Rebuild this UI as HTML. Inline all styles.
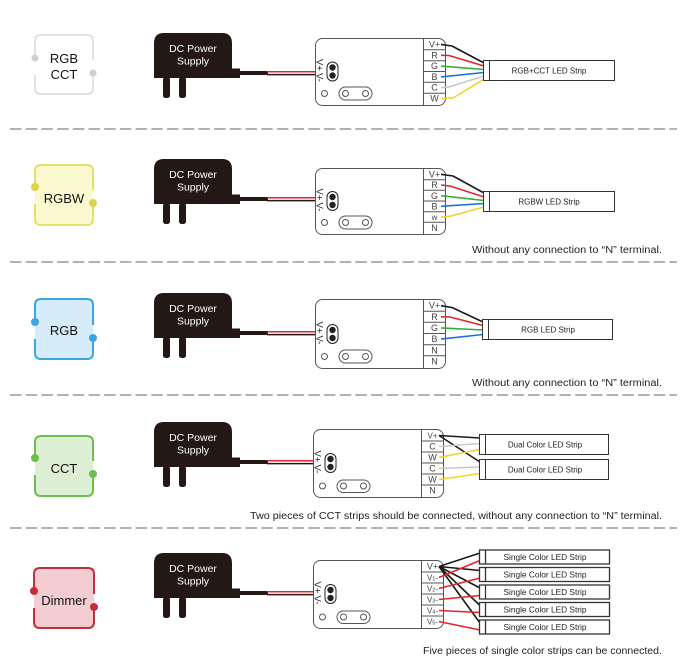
<!DOCTYPE html>
<html><head><meta charset="utf-8"><style>
html,body{margin:0;padding:0;background:#fff;}
svg{display:block;font-family:"Liberation Sans",sans-serif;}
</style></head><body>
<svg width="684" height="666" viewBox="0 0 684 666" xmlns="http://www.w3.org/2000/svg">

<!-- dashed separators -->
<g stroke="#a8a8a8" stroke-width="1.8" stroke-dasharray="11.5 4.2">
<line x1="10" y1="129" x2="677" y2="129"/>
<line x1="10" y1="262" x2="677" y2="262"/>
<line x1="10" y1="395" x2="677" y2="395"/>
<line x1="10" y1="528" x2="677" y2="528"/>
</g>

<!-- ============ MODULE BOXES ============ -->
<!-- Row1 RGB CCT -->
<rect x="35" y="35" width="58" height="59" rx="6" fill="#fff"/>
<path d="M35,75 L35,88 Q35,94 41,94 L87,94 Q93,94 93,88 L93,70 M93,60 L93,41 Q93,35 87,35 L41,35 Q35,35 35,41 L35,58" fill="none" stroke="#d9d9d9" stroke-width="1.5"/>
<circle cx="35" cy="58" r="3.5" fill="#cfcfcf"/>
<circle cx="93" cy="73" r="3.5" fill="#cfcfcf"/>
<text x="64" y="63" font-size="13" text-anchor="middle" fill="#111">RGB</text>
<text x="64" y="79" font-size="13" text-anchor="middle" fill="#111">CCT</text>

<!-- Row2 RGBW -->
<rect x="35" y="165" width="58" height="60" rx="6" fill="#fbf9cf"/>
<path d="M35,204 L35,219 Q35,225 41,225 L87,225 Q93,225 93,219 L93,200 M93,190 L93,171 Q93,165 87,165 L41,165 Q35,165 35,171 L35,187" fill="none" stroke="#e6df6a" stroke-width="2"/>
<circle cx="35" cy="187" r="4" fill="#dcd34a"/>
<circle cx="93" cy="203" r="4" fill="#dcd34a"/>
<text x="64" y="203" font-size="13" text-anchor="middle" fill="#111">RGBW</text>

<!-- Row3 RGB -->
<rect x="35" y="299" width="58" height="60" rx="6" fill="#d6ecfa"/>
<path d="M35,339 L35,353 Q35,359 41,359 L87,359 Q93,359 93,353 L93,335 M93,325 L93,305 Q93,299 87,299 L41,299 Q35,299 35,305 L35,322" fill="none" stroke="#3ba6e3" stroke-width="2"/>
<circle cx="35" cy="322" r="4" fill="#3ba6e3"/>
<circle cx="93" cy="338" r="4" fill="#3ba6e3"/>
<text x="64" y="335" font-size="13" text-anchor="middle" fill="#111">RGB</text>

<!-- Row4 CCT -->
<rect x="35" y="436" width="58" height="60" rx="6" fill="#dcefd4"/>
<path d="M35,475 L35,490 Q35,496 41,496 L87,496 Q93,496 93,490 L93,471 M93,461 L93,442 Q93,436 87,436 L41,436 Q35,436 35,442 L35,458" fill="none" stroke="#6bbf4e" stroke-width="2"/>
<circle cx="35" cy="458" r="4" fill="#6bbf4e"/>
<circle cx="93" cy="474" r="4" fill="#6bbf4e"/>
<text x="64" y="473" font-size="13" text-anchor="middle" fill="#111">CCT</text>

<!-- Row5 Dimmer -->
<rect x="34" y="568" width="60" height="60" rx="6" fill="#f3cdd1"/>
<path d="M34,608 L34,622 Q34,628 40,628 L88,628 Q94,628 94,622 L94,604 M94,594 L94,574 Q94,568 88,568 L40,568 Q34,568 34,574 L34,591" fill="none" stroke="#c42e3c" stroke-width="2"/>
<circle cx="34" cy="591" r="4" fill="#c42e3c"/>
<circle cx="94" cy="607" r="4" fill="#c42e3c"/>
<text x="64" y="605" font-size="13" text-anchor="middle" fill="#111">Dimmer</text>

<!-- ============ POWER SUPPLIES + CABLES ============ -->
<g transform="translate(0,0)">
 <path d="M154,78 L154,43 Q154,33 164,33 L222,33 Q232,33 232,43 L232,78 Z" fill="#231815"/>
 <rect x="231" y="68.5" width="9" height="9.5" fill="#231815"/>
 <rect x="163" y="77" width="7" height="21" rx="2.5" fill="#231815"/>
 <rect x="179" y="77" width="7" height="21" rx="2.5" fill="#231815"/>
 <text x="193" y="52" font-size="10.5" fill="#fff" text-anchor="middle">DC Power</text>
 <text x="193" y="64.5" font-size="10.5" fill="#fff" text-anchor="middle">Supply</text>
 <line x1="239" y1="73" x2="268" y2="73" stroke="#231815" stroke-width="4"/>
 <line x1="267" y1="71.8" x2="318" y2="71.8" stroke="#e0262a" stroke-width="1.5"/>
 <line x1="267" y1="74.6" x2="318" y2="74.6" stroke="#231815" stroke-width="1.5"/>
</g>
<g transform="translate(0,126)">
 <path d="M154,78 L154,43 Q154,33 164,33 L222,33 Q232,33 232,43 L232,78 Z" fill="#231815"/>
 <rect x="231" y="68.5" width="9" height="9.5" fill="#231815"/>
 <rect x="163" y="77" width="7" height="21" rx="2.5" fill="#231815"/>
 <rect x="179" y="77" width="7" height="21" rx="2.5" fill="#231815"/>
 <text x="193" y="52" font-size="10.5" fill="#fff" text-anchor="middle">DC Power</text>
 <text x="193" y="64.5" font-size="10.5" fill="#fff" text-anchor="middle">Supply</text>
 <line x1="239" y1="73" x2="268" y2="73" stroke="#231815" stroke-width="4"/>
 <line x1="267" y1="71.8" x2="318" y2="71.8" stroke="#e0262a" stroke-width="1.5"/>
 <line x1="267" y1="74.6" x2="318" y2="74.6" stroke="#231815" stroke-width="1.5"/>
</g>
<g transform="translate(0,260)">
 <path d="M154,78 L154,43 Q154,33 164,33 L222,33 Q232,33 232,43 L232,78 Z" fill="#231815"/>
 <rect x="231" y="68.5" width="9" height="9.5" fill="#231815"/>
 <rect x="163" y="77" width="7" height="21" rx="2.5" fill="#231815"/>
 <rect x="179" y="77" width="7" height="21" rx="2.5" fill="#231815"/>
 <text x="193" y="52" font-size="10.5" fill="#fff" text-anchor="middle">DC Power</text>
 <text x="193" y="64.5" font-size="10.5" fill="#fff" text-anchor="middle">Supply</text>
 <line x1="239" y1="73" x2="268" y2="73" stroke="#231815" stroke-width="4"/>
 <line x1="267" y1="71.8" x2="318" y2="71.8" stroke="#e0262a" stroke-width="1.5"/>
 <line x1="267" y1="74.6" x2="318" y2="74.6" stroke="#231815" stroke-width="1.5"/>
</g>
<g transform="translate(0,389)">
 <path d="M154,78 L154,43 Q154,33 164,33 L222,33 Q232,33 232,43 L232,78 Z" fill="#231815"/>
 <rect x="231" y="68.5" width="9" height="9.5" fill="#231815"/>
 <rect x="163" y="77" width="7" height="21" rx="2.5" fill="#231815"/>
 <rect x="179" y="77" width="7" height="21" rx="2.5" fill="#231815"/>
 <text x="193" y="52" font-size="10.5" fill="#fff" text-anchor="middle">DC Power</text>
 <text x="193" y="64.5" font-size="10.5" fill="#fff" text-anchor="middle">Supply</text>
 <line x1="239" y1="73" x2="268" y2="73" stroke="#231815" stroke-width="4"/>
 <line x1="267" y1="71.8" x2="316" y2="71.8" stroke="#e0262a" stroke-width="1.5"/>
 <line x1="267" y1="74.6" x2="316" y2="74.6" stroke="#231815" stroke-width="1.5"/>
</g>
<g transform="translate(0,520)">
 <path d="M154,78 L154,43 Q154,33 164,33 L222,33 Q232,33 232,43 L232,78 Z" fill="#231815"/>
 <rect x="231" y="68.5" width="9" height="9.5" fill="#231815"/>
 <rect x="163" y="77" width="7" height="21" rx="2.5" fill="#231815"/>
 <rect x="179" y="77" width="7" height="21" rx="2.5" fill="#231815"/>
 <text x="193" y="52" font-size="10.5" fill="#fff" text-anchor="middle">DC Power</text>
 <text x="193" y="64.5" font-size="10.5" fill="#fff" text-anchor="middle">Supply</text>
 <line x1="239" y1="73" x2="268" y2="73" stroke="#231815" stroke-width="4"/>
 <line x1="267" y1="71.8" x2="316" y2="71.8" stroke="#e0262a" stroke-width="1.5"/>
 <line x1="267" y1="74.6" x2="316" y2="74.6" stroke="#231815" stroke-width="1.5"/>
</g>

<!-- ============ CONTROLLERS ============ -->
<!-- Row1: X=315 Y=38 H=67 -->
<g fill="none" stroke="#555" stroke-width="1">
 <rect x="315.5" y="38.5" width="130" height="67" rx="7" fill="#fff"/>
 <line x1="423.5" y1="38.5" x2="423.5" y2="105.5"/>
 <line x1="423.5" y1="49.8" x2="445.5" y2="49.8"/>
 <line x1="423.5" y1="60.7" x2="445.5" y2="60.7"/>
 <line x1="423.5" y1="71.5" x2="445.5" y2="71.5"/>
 <line x1="423.5" y1="82.3" x2="445.5" y2="82.3"/>
 <line x1="423.5" y1="93.2" x2="445.5" y2="93.2"/>
 <rect x="327" y="62" width="11" height="19" rx="5.5" stroke="#222"/>
 <circle cx="324.5" cy="93.5" r="3"/>
 <rect x="339" y="87" width="33" height="13" rx="6.5"/>
 <circle cx="345.5" cy="93.5" r="3"/>
 <circle cx="365.5" cy="93.5" r="3"/>
</g>
<circle cx="332.5" cy="67.5" r="3.2" fill="#222"/>
<circle cx="332.5" cy="75.5" r="3.2" fill="#222"/>
<text transform="translate(316.5,59) rotate(90)" font-size="9.5" fill="#222">V+</text>
<text transform="translate(316.5,73) rotate(90)" font-size="9.5" fill="#222">V-</text>
<g font-size="9" fill="#444" text-anchor="middle">
 <text x="434.5" y="47.5">V+</text><text x="434.5" y="58.3">R</text><text x="434.5" y="69.1">G</text>
 <text x="434.5" y="79.9">B</text><text x="434.5" y="90.7">C</text><text x="434.5" y="101.6">W</text>
</g>

<!-- Row2: X=315 Y=168 H=66 -->
<g fill="none" stroke="#555" stroke-width="1">
 <rect x="315.5" y="168.5" width="130" height="66" rx="7" fill="#fff"/>
 <line x1="423.5" y1="168.5" x2="423.5" y2="234.5"/>
 <line x1="423.5" y1="179.7" x2="445.5" y2="179.7"/>
 <line x1="423.5" y1="190.3" x2="445.5" y2="190.3"/>
 <line x1="423.5" y1="201" x2="445.5" y2="201"/>
 <line x1="423.5" y1="211.7" x2="445.5" y2="211.7"/>
 <line x1="423.5" y1="222.3" x2="445.5" y2="222.3"/>
 <rect x="327" y="191.5" width="11" height="19" rx="5.5" stroke="#222"/>
 <circle cx="324.5" cy="222.5" r="3"/>
 <rect x="339" y="216" width="33" height="13" rx="6.5"/>
 <circle cx="345.5" cy="222.5" r="3"/>
 <circle cx="365.5" cy="222.5" r="3"/>
</g>
<circle cx="332.5" cy="197" r="3.2" fill="#222"/>
<circle cx="332.5" cy="205" r="3.2" fill="#222"/>
<text transform="translate(316.5,188.5) rotate(90)" font-size="9.5" fill="#222">V+</text>
<text transform="translate(316.5,202.5) rotate(90)" font-size="9.5" fill="#222">V-</text>
<g font-size="9" fill="#444" text-anchor="middle">
 <text x="434.5" y="177.4">V+</text><text x="434.5" y="188.1">R</text><text x="434.5" y="198.8">G</text>
 <text x="434.5" y="209.4">B</text><text x="434.5" y="220" font-size="8">w</text><text x="434.5" y="230.8">N</text>
</g>

<!-- Row3: X=315 Y=299 H=69 -->
<g fill="none" stroke="#555" stroke-width="1">
 <rect x="315.5" y="299.5" width="130" height="69" rx="7" fill="#fff"/>
 <line x1="423.5" y1="299.5" x2="423.5" y2="368.5"/>
 <line x1="423.5" y1="311.2" x2="445.5" y2="311.2"/>
 <line x1="423.5" y1="322.3" x2="445.5" y2="322.3"/>
 <line x1="423.5" y1="333.5" x2="445.5" y2="333.5"/>
 <line x1="423.5" y1="344.7" x2="445.5" y2="344.7"/>
 <line x1="423.5" y1="355.8" x2="445.5" y2="355.8"/>
 <rect x="327" y="324.5" width="11" height="19" rx="5.5" stroke="#222"/>
 <circle cx="324.5" cy="356.5" r="3"/>
 <rect x="339" y="350" width="33" height="13" rx="6.5"/>
 <circle cx="345.5" cy="356.5" r="3"/>
 <circle cx="365.5" cy="356.5" r="3"/>
</g>
<circle cx="332.5" cy="330" r="3.2" fill="#222"/>
<circle cx="332.5" cy="338" r="3.2" fill="#222"/>
<text transform="translate(316.5,321.5) rotate(90)" font-size="9.5" fill="#222">V+</text>
<text transform="translate(316.5,335.5) rotate(90)" font-size="9.5" fill="#222">V-</text>
<g font-size="9" fill="#444" text-anchor="middle">
 <text x="434.5" y="308.7">V+</text><text x="434.5" y="319.9">R</text><text x="434.5" y="331">G</text>
 <text x="434.5" y="342.2">B</text><text x="434.5" y="353.4">N</text><text x="434.5" y="364.5">N</text>
</g>

<!-- Row4: X=313 Y=429 H=68 -->
<g fill="none" stroke="#555" stroke-width="1">
 <rect x="313.5" y="429.5" width="130" height="68" rx="7" fill="#fff"/>
 <line x1="421.5" y1="429.5" x2="421.5" y2="497.5"/>
 <line x1="421.5" y1="441" x2="443.5" y2="441"/>
 <line x1="421.5" y1="452" x2="443.5" y2="452"/>
 <line x1="421.5" y1="463" x2="443.5" y2="463"/>
 <line x1="421.5" y1="474" x2="443.5" y2="474"/>
 <line x1="421.5" y1="485" x2="443.5" y2="485"/>
 <rect x="325" y="453.5" width="11" height="19" rx="5.5" stroke="#222"/>
 <circle cx="322.5" cy="486" r="3"/>
 <rect x="337" y="480" width="33" height="12.5" rx="6.2"/>
 <circle cx="343.5" cy="486" r="3"/>
 <circle cx="363.5" cy="486" r="3"/>
</g>
<circle cx="330.5" cy="459" r="3.2" fill="#222"/>
<circle cx="330.5" cy="467" r="3.2" fill="#222"/>
<text transform="translate(314.5,450.5) rotate(90)" font-size="9.5" fill="#222">V+</text>
<text transform="translate(314.5,464.5) rotate(90)" font-size="9.5" fill="#222">V-</text>
<g font-size="9" fill="#444" text-anchor="middle">
 <text x="432.5" y="438.5" font-size="8">V+</text><text x="432.5" y="449.5">C</text><text x="432.5" y="460.5">W</text>
 <text x="432.5" y="471.5">C</text><text x="432.5" y="482.5">W</text><text x="432.5" y="493.5">N</text>
</g>

<!-- Row5: X=313 Y=560 H=68 -->
<g fill="none" stroke="#555" stroke-width="1">
 <rect x="313.5" y="560.5" width="130" height="68" rx="7" fill="#fff"/>
 <line x1="421.5" y1="560.5" x2="421.5" y2="628.5"/>
 <line x1="421.5" y1="572" x2="443.5" y2="572"/>
 <line x1="421.5" y1="583" x2="443.5" y2="583"/>
 <line x1="421.5" y1="594" x2="443.5" y2="594"/>
 <line x1="421.5" y1="605" x2="443.5" y2="605"/>
 <line x1="421.5" y1="616" x2="443.5" y2="616"/>
 <rect x="325" y="584.5" width="11" height="19" rx="5.5" stroke="#222"/>
 <circle cx="322.5" cy="617" r="3"/>
 <rect x="337" y="611" width="33" height="12.5" rx="6.2"/>
 <circle cx="343.5" cy="617" r="3"/>
 <circle cx="363.5" cy="617" r="3"/>
</g>
<circle cx="330.5" cy="590" r="3.2" fill="#222"/>
<circle cx="330.5" cy="598" r="3.2" fill="#222"/>
<text transform="translate(314.5,581.5) rotate(90)" font-size="9.5" fill="#222">V+</text>
<text transform="translate(314.5,595.5) rotate(90)" font-size="9.5" fill="#222">V-</text>
<g font-size="9" fill="#444" text-anchor="middle">
 <text x="432.5" y="569.5">V+</text>
 <text x="432.5" y="580.5" font-size="8">V<tspan font-size="5.5">1</tspan>-</text>
 <text x="432.5" y="591.5" font-size="8">V<tspan font-size="5.5">2</tspan>-</text>
 <text x="432.5" y="602.5" font-size="8">V<tspan font-size="5.5">3</tspan>-</text>
 <text x="432.5" y="613.5" font-size="8">V<tspan font-size="5.5">4</tspan>-</text>
 <text x="432.5" y="624.5" font-size="8">V<tspan font-size="5.5">5</tspan>-</text>
</g>

<!-- ============ WIRES ============ -->
<g fill="none" stroke-width="1.6" stroke-linejoin="round">
 <!-- row1 -->
 <path d="M441,44.4 L452,46 L484,63" stroke="#1a1a1a"/>
 <path d="M441,55.3 L449,55.5 L484,66" stroke="#e0262a"/>
 <path d="M441,66.1 L484,69.5" stroke="#2fae3a"/>
 <path d="M441,76.9 L484,72.5" stroke="#1f6fd6"/>
 <path d="M441,87.7 L449,87 L484,76" stroke="#c8c8c8"/>
 <path d="M441,98.6 L453,98 L484,79" stroke="#f2d22a"/>
 <!-- row2 -->
 <path d="M441,174.3 L453,176 L484,193" stroke="#1a1a1a"/>
 <path d="M441,185 L450,186 L484,197" stroke="#e0262a"/>
 <path d="M441,195.7 L484,200.5" stroke="#2fae3a"/>
 <path d="M441,206.3 L484,203.5" stroke="#1f6fd6"/>
 <path d="M441,217 L451,216 L484,207" stroke="#f2d22a"/>
 <!-- row3 -->
 <path d="M441,305.7 L452,307.5 L483,322" stroke="#1a1a1a"/>
 <path d="M441,316.8 L450,317 L483,325.5" stroke="#e0262a"/>
 <path d="M441,327.9 L483,330" stroke="#2fae3a"/>
 <path d="M441,339.1 L483,334.5" stroke="#1f6fd6"/>
 <!-- row4 -->
 <path d="M439,435.5 L480,438" stroke="#1a1a1a"/>
 <path d="M439,435.5 L480,462" stroke="#1a1a1a"/>
 <path d="M439,446.5 L480,443.5" stroke="#c8c8c8"/>
 <path d="M439,457.5 L480,449.5" stroke="#f2d22a"/>
 <path d="M439,468.5 L480,467" stroke="#c8c8c8"/>
 <path d="M439,479.5 L480,473.5" stroke="#f2d22a"/>
 <!-- row5 -->
 <path d="M439,566.5 L480,553" stroke="#1a1a1a"/>
 <path d="M439,566.5 L480,570.5" stroke="#1a1a1a"/>
 <path d="M439,566.5 L480,588" stroke="#1a1a1a"/>
 <path d="M439,566.5 L480,605.5" stroke="#1a1a1a"/>
 <path d="M439,566.5 L480,623" stroke="#1a1a1a"/>
 <path d="M439,577.5 L480,560.5" stroke="#e0262a"/>
 <path d="M439,588.5 L480,578" stroke="#e0262a"/>
 <path d="M439,599.5 L480,595.5" stroke="#e0262a"/>
 <path d="M439,610.5 L480,612.5" stroke="#e0262a"/>
 <path d="M439,621.5 L480,630" stroke="#e0262a"/>
</g>

<!-- ============ STRIPS ============ -->
<g fill="#fff" stroke="#333" stroke-width="1">
 <rect x="483.5" y="60.5" width="131" height="20"/>
 <line x1="489.5" y1="60.5" x2="489.5" y2="80.5"/>
 <rect x="483.5" y="191.5" width="131" height="20"/>
 <line x1="489.5" y1="191.5" x2="489.5" y2="211.5"/>
 <rect x="482.5" y="319.5" width="130" height="20"/>
 <line x1="488.5" y1="319.5" x2="488.5" y2="339.5"/>
 <rect x="479.5" y="434.5" width="129" height="20"/>
 <line x1="485.5" y1="434.5" x2="485.5" y2="454.5"/>
 <rect x="479.5" y="459.5" width="129" height="20"/>
 <line x1="485.5" y1="459.5" x2="485.5" y2="479.5"/>
</g>
<g fill="#fff" stroke="#333" stroke-width="1.3">
 <rect x="479.5" y="550" width="130" height="14"/>
 <line x1="485.5" y1="550" x2="485.5" y2="564"/>
 <rect x="479.5" y="567.5" width="130" height="14"/>
 <line x1="485.5" y1="567.5" x2="485.5" y2="581.5"/>
 <rect x="479.5" y="585" width="130" height="14"/>
 <line x1="485.5" y1="585" x2="485.5" y2="599"/>
 <rect x="479.5" y="602.5" width="130" height="14"/>
 <line x1="485.5" y1="602.5" x2="485.5" y2="616.5"/>
 <rect x="479.5" y="620" width="130" height="14"/>
 <line x1="485.5" y1="620" x2="485.5" y2="634"/>
</g>
<g font-size="8" fill="#222" text-anchor="middle">
 <text x="549" y="73.5">RGB+CCT LED Strip</text>
 <text x="549" y="204.5">RGBW LED Strip</text>
 <text x="548" y="332.5">RGB LED Strip</text>
 <text x="545" y="447.5">Dual Color LED Strip</text>
 <text x="545" y="472.5">Dual Color LED Strip</text>
 <text x="545" y="560" font-size="8.3">Single Color LED Strip</text>
 <text x="545" y="577.5" font-size="8.3">Single Color LED Strip</text>
 <text x="545" y="595" font-size="8.3">Single Color LED Strip</text>
 <text x="545" y="612.5" font-size="8.3">Single Color LED Strip</text>
 <text x="545" y="630" font-size="8.3">Single Color LED Strip</text>
</g>

<!-- ============ NOTES ============ -->
<g font-size="10" fill="#222">
 <text x="472" y="253" textLength="190" lengthAdjust="spacingAndGlyphs">Without any connection to “N” terminal.</text>
 <text x="472" y="386" textLength="190" lengthAdjust="spacingAndGlyphs">Without any connection to “N” terminal.</text>
 <text x="250" y="519" textLength="412" lengthAdjust="spacingAndGlyphs">Two pieces of CCT strips should be connected, without any connection to “N” terminal.</text>
 <text x="423" y="654" textLength="239" lengthAdjust="spacingAndGlyphs">Five pieces of single color strips can be connected.</text>
</g>
</svg>
</body></html>
